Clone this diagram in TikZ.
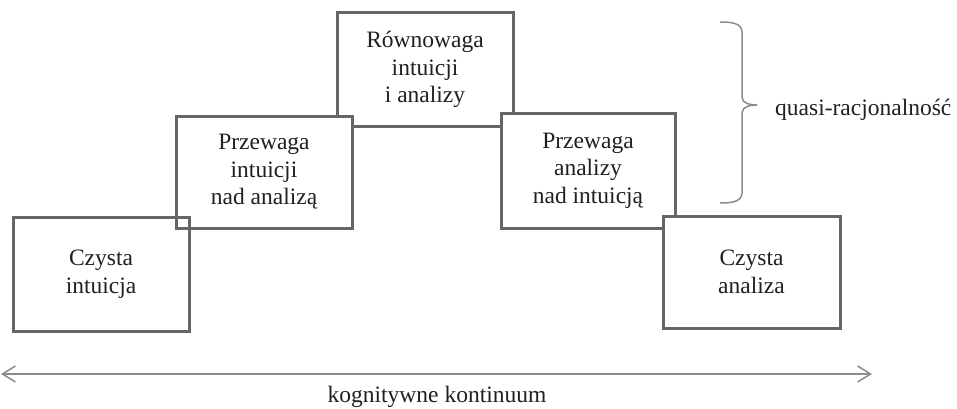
\documentclass[tikz,border=0pt]{standalone}
\usepackage{fontspec}
\setmainfont{Liberation Serif}
\usepackage{xcolor}
\usetikzlibrary{arrows.meta}
\definecolor{boxgray}{HTML}{666666}
\definecolor{linegray}{HTML}{8C8C8C}
\definecolor{textgray}{HTML}{231F20}

\begin{document}
\begin{tikzpicture}[x=1pt, y=1pt,
    box/.style={draw=boxgray, line width=3pt, fill=white, text=textgray, align=center,
                minimum width=176pt, minimum height=113pt, inner sep=0pt,
                font=\fontsize{23.5}{27.5}\selectfont},
    label/.style={text=textgray, inner sep=0pt, font=\fontsize{23.5}{27.5}\selectfont},
    thin gray/.style={draw=linegray, line width=1.5pt}]
    \useasboundingbox (0,0) rectangle (957,408);
    % Middle and left steps
    \node[box] (rown) at (425,338.5) {Równowaga\\intuicji\\i analizy};
    \node[box, minimum height=112pt] (pia) at (264,236) {Przewaga\\intuicji\\nad analizą};
    \node[box, fill=none, minimum height=114pt] (ci) at (101,134) {Czysta\\intuicja};
    % Right steps
    \node[box, minimum width=174pt, minimum height=115pt] (pai) at (588,237.5) {Przewaga\\analizy\\nad intuicją};
    \node[box, minimum width=177pt, minimum height=112pt] (ca) at (751.5,136) {Czysta\\analiza};
    % Brace
    \coordinate (bt) at (720,386);
    \coordinate (bb) at (720,205);
    \coordinate (tip) at (757,303);
    \draw[thin gray] (bt) to[out=0, in=90] (742,376) -- (742,311)
        to[out=-90, in=180] (tip) to[out=180, in=90] (742,295) -- (742,215)
        to[out=-90, in=0] (bb);
    \node[label, anchor=base west] (quasi) at (775,293) {quasi-racjonalność};
    % Continuum arrow
    \coordinate (left) at (1,34);
    \coordinate (right) at (872,34);
    \draw[thin gray, {Straight Barb[length=13pt, width=16pt]}-{Straight Barb[length=13pt, width=16pt]}] (left) -- (right);
    \node[label, anchor=base] (kont) at (437,6) {kognitywne kontinuum};
\end{tikzpicture}
\end{document}
